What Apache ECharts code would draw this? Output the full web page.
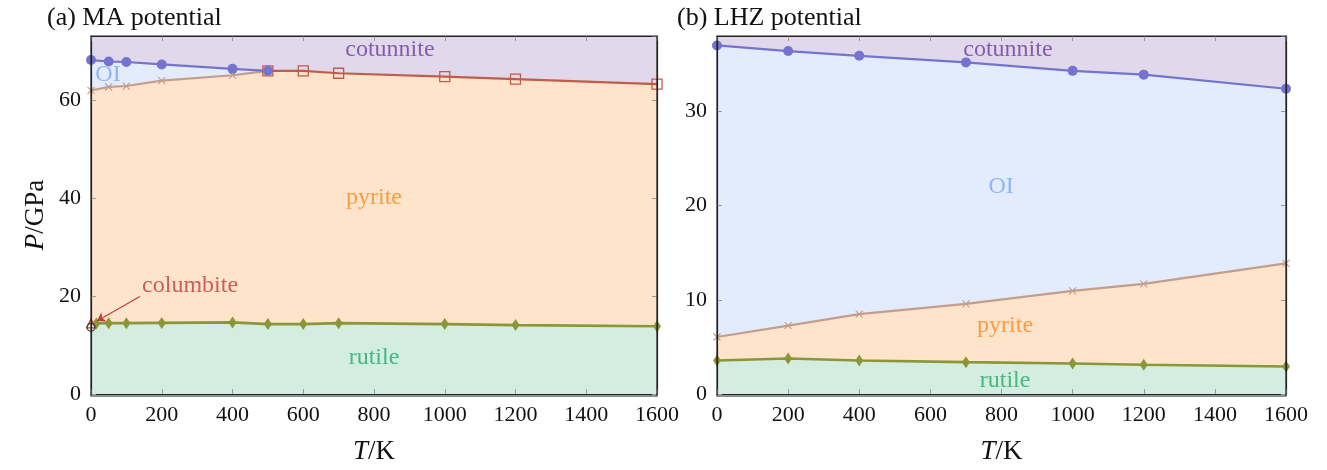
<!DOCTYPE html>
<html lang="en">
<head>
    <meta charset="UTF-8">
    <script src="https://cdn.jsdelivr.net/npm/echarts@6/dist/echarts.min.js"></script>
    <title>phase diagrams</title>
    <style>
        html, body{
            margin: 0;
            padding: 0;
            background: #fff;
        }
        #main{
            width: 1327px;
            height: 470px;
        }
    </style>
</head>
<body>
    <div id="main"></div>
    <script>
        // (a) MA potential
        let maCotT = [0, 50, 100, 200, 400, 500]
        let maCotP = [68.1, 67.8, 67.7, 67.2, 66.3, 65.9]
        let maPyrT = [0, 50, 100, 200, 400, 500]
        let maPyrP = [61.9, 62.6, 62.8, 63.9, 65.0, 65.9]
        let maCpT = [500, 600, 700, 1000, 1200, 1600]
        let maCpP = [65.9, 65.9, 65.4, 64.7, 64.2, 63.2]
        let maRutT = [15, 50, 100, 200, 400, 500, 600, 700, 1000, 1200, 1600]
        let maRutP = [14.4, 14.45, 14.45, 14.5, 14.6, 14.25, 14.25, 14.45, 14.25, 14.05, 13.8]
        let maColTriP = 14.4
        let maColCirP = 13.6

        // (b) LHZ potential
        let lhzT = [0, 200, 400, 700, 1000, 1200, 1600]
        let lhzCotP = [37.0, 36.4, 35.9, 35.2, 34.3, 33.9, 32.4]
        let lhzPyrP = [6.05, 7.25, 8.48, 9.57, 10.95, 11.69, 13.87]
        let lhzRutP = [3.56, 3.77, 3.56, 3.38, 3.24, 3.1, 2.92]

        let xTicks = [0, 200, 400, 600, 800, 1000, 1200, 1400, 1600]

        const font = 'Liberation Serif'
        const cPurple = '#e1d8eb', cBlue = '#e2ecfd', cPeach = '#fee4cb', cGreen = '#d3ede0'
        const lCot = '#7474cf', lPyr = '#c49d8d', lCp = '#bf5c4b', lRut = '#8a9637'

        const zip = (a, b) => a.map((v, i) => [v, b[i]])

        function fill(data, color, gi, z){
            return {
                type: 'line', xAxisIndex: gi * 2, yAxisIndex: gi * 2,
                data: data, showSymbol: false, silent: true, z: z,
                lineStyle: { width: 0 },
                areaStyle: { color: color, opacity: 1, origin: 'start' }
            }
        }
        function line(data, color, gi, symbol, size, itemStyle, width){
            return {
                type: 'line', xAxisIndex: gi * 2, yAxisIndex: gi * 2,
                data: data, symbol: symbol, symbolSize: size, z: 10,
                lineStyle: { color: color, width: width || 2.2 },
                itemStyle: itemStyle || { color: color }
            }
        }
        const crossSym = 'path://M0,0L10,10M10,0L0,10'
        const crossStyle = { color: 'rgba(0,0,0,0)', borderColor: lPyr, borderWidth: 1.1 }
        const sqStyle = { color: 'rgba(0,0,0,0)', borderColor: lCp, borderWidth: 1.3 }

        function text(gi, list){
            return {
                type: 'scatter', xAxisIndex: gi * 2, yAxisIndex: gi * 2,
                symbolSize: 0, z: 20, silent: true,
                data: list.map(it => ({ value: [it[0], it[1]], name: it[2],
                    label: { color: it[3] } })),
                label: {
                    show: true, position: 'inside', formatter: p => p.name,
                    fontFamily: font, fontSize: 24
                }
            }
        }

        let labelsA = [
            [845, 70.2, 'cotunnite', '#6a3f9c'],
            [48, 65.1, 'OI', '#7ea8f2'],
            [800, 40.1, 'pyrite', '#fb8a1e'],
            [280, 22.1, 'columbite', '#c23b3b'],
            [800, 7.3, 'rutile', '#23ab6b']
        ]
        let labelsB = [
            [818, 36.5, 'cotunnite', '#6a3f9c'],
            [799, 22.0, 'OI', '#7ea8f2'],
            [810, 7.3, 'pyrite', '#fb8a1e'],
            [810, 1.4, 'rutile', '#23ab6b']
        ]

        const nameStyle = { fontFamily: font, fontSize: 27, color: '#111',
            rich: { i: { fontFamily: font, fontSize: 27, fontStyle: 'italic', color: '#111' } } }

        function xAx(gi, top){
            return {
                type: 'value', gridIndex: gi, min: 0, max: 1600, interval: 200, z: 30,
                position: top ? 'top' : 'bottom',
                name: top ? '' : '{i|T}/K', nameLocation: 'middle', nameGap: 44,
                nameTextStyle: nameStyle,
                axisLine: { show: true, onZero: false, lineStyle: { color: '#222', width: 1.2 } },
                axisTick: { show: true, inside: true, length: 5, lineStyle: { color: '#999' } },
                axisLabel: { show: !top, fontFamily: font, fontSize: 22, color: '#111', margin: 10,
                    formatter: v => xTicks.includes(v) ? v : '' },
                splitLine: { show: false }
            }
        }
        function yAx(gi, right, max, step, name){
            return {
                type: 'value', gridIndex: gi, min: 0, max: max, interval: step, z: 30,
                position: right ? 'right' : 'left',
                name: right ? '' : name, nameLocation: 'middle', nameGap: 42, nameRotate: 90,
                nameTextStyle: nameStyle,
                axisLine: { show: true, onZero: false, lineStyle: { color: '#222', width: 1.2 } },
                axisTick: { show: true, inside: true, length: 5, lineStyle: { color: '#999' } },
                axisLabel: { show: !right, fontFamily: font, fontSize: 22, color: '#111', margin: 10,
                    showMaxLabel: false, formatter: v => v % step === 0 ? v : '' },
                splitLine: { show: false }
            }
        }

        // plot frames (pgfplots style box)
        const grids = [
            { left: 91, right: 670, top: 36, bottom: 74 },
            { left: 717, right: 41, top: 36, bottom: 74 }
        ]
        const W = 1327, H = 470

        let myChart = echarts.init(document.getElementById('main'), null, { renderer: 'canvas' })
        let option = {
            animation: false,
            title: [
                { text: '(a) MA potential', left: 42, top: 0,
                  textStyle: { fontFamily: font, fontSize: 26, fontWeight: 'normal', color: '#111' } },
                { text: '(b) LHZ potential', left: 672, top: 0,
                  textStyle: { fontFamily: font, fontSize: 26, fontWeight: 'normal', color: '#111' } }
            ],
            grid: grids.map(g => Object.assign({ show: true, backgroundColor: cPurple, borderWidth: 0 }, g)),
            graphic: grids.map(g => ({
                type: 'rect', z: 100, silent: true,
                shape: { x: g.left, y: g.top, width: W - g.left - g.right, height: H - g.top - g.bottom },
                style: { fill: 'none', stroke: '#222', lineWidth: 1.2 }
            })),
            xAxis: [xAx(0, false), xAx(0, true), xAx(1, false), xAx(1, true)],
            yAxis: [yAx(0, false, 73, 20, '{i|P}/GPa'), yAx(0, true, 73, 20), yAx(1, false, 38, 10), yAx(1, true, 38, 10)],
            series: [
                // (a) regions
                fill(zip(maCotT, maCotP), cBlue, 0, 1),
                fill(zip(maPyrT, maPyrP).concat(zip(maCpT.slice(1), maCpP.slice(1))), cPeach, 0, 2),
                fill([[0, maRutP[0]]].concat(zip(maRutT, maRutP)), cGreen, 0, 3),
                // (a) boundaries
                line(zip(maPyrT, maPyrP), lPyr, 0, crossSym, 7, crossStyle),
                line(zip(maCpT, maCpP), lCp, 0, 'rect', 10, sqStyle),
                line(zip(maCotT, maCotP), lCot, 0, 'circle', 10),
                line(zip(maRutT, maRutP), lRut, 0, 'diamond', [8, 12], null, 2.6),
                line([[0, maColTriP]], '#d0402a', 0, 'triangle', 9,
                    { color: 'rgba(0,0,0,0)', borderColor: '#d0402a', borderWidth: 1.2 }),
                line([[0, maColCirP]], '#444', 0, 'circle', 8,
                    { color: 'rgba(0,0,0,0)', borderColor: '#444', borderWidth: 1.2 }),
                {
                    type: 'lines', coordinateSystem: 'cartesian2d', xAxisIndex: 0, yAxisIndex: 0,
                    z: 15, silent: true,
                    symbol: ['none', 'arrow'], symbolSize: 8,
                    lineStyle: { color: '#c23b3b', width: 1.2, opacity: 1 },
                    data: [{ coords: [[138, 19.9], [17, 14.9]] }]
                },
                text(0, labelsA),

                // (b) regions
                fill(zip(lhzT, lhzCotP), cBlue, 1, 1),
                fill(zip(lhzT, lhzPyrP), cPeach, 1, 2),
                fill(zip(lhzT, lhzRutP), cGreen, 1, 3),
                // (b) boundaries
                line(zip(lhzT, lhzCotP), lCot, 1, 'circle', 10),
                line(zip(lhzT, lhzPyrP), lPyr, 1, crossSym, 7, crossStyle),
                line(zip(lhzT, lhzRutP), lRut, 1, 'diamond', [8, 12], null, 2.6),
                text(1, labelsB)
            ]
        }
        myChart.setOption(option)
    </script>
</body>
</html>
